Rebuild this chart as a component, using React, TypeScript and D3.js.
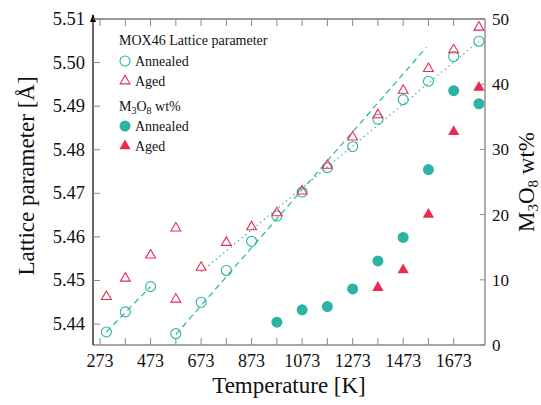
import React from "react";
import * as d3 from "d3";

// ---- data ----
const temps = [298, 373, 473, 573, 673, 773, 873, 973, 1073, 1173, 1273, 1373, 1473, 1573, 1673, 1773];
const annealedLattice = [5.4382, 5.4428, 5.4486, 5.4378, 5.4450, 5.4523, 5.4590, 5.4648, 5.4703, 5.4759, 5.4807, 5.4870, 5.4915, 5.4957, 5.5014, 5.5049];
const agedTemps = [298, 373, 473, 573, 573, 673, 773, 873, 973, 1073, 1173, 1273, 1373, 1473, 1573, 1673, 1773];
const agedLattice = [5.4463, 5.4505, 5.4558, 5.4620, 5.4457, 5.4530, 5.4587, 5.4623, 5.4655, 5.4705, 5.4764, 5.4829, 5.4880, 5.4936, 5.4986, 5.5029, 5.5081];
const m3o8AnnealedTemps = [973, 1073, 1173, 1273, 1373, 1473, 1573, 1673, 1773];
const m3o8Annealed = [3.5, 5.4, 5.9, 8.6, 12.9, 16.5, 26.9, 39.0, 37.0];
const m3o8AgedTemps = [1373, 1473, 1573, 1673, 1773];
const m3o8Aged = [8.8, 11.5, 20.0, 32.7, 39.5];
// fit lines (temperature, lattice)
const fitLow: [number, number][] = [[298, 5.4382], [473, 5.4486]];
const fitDashed: [number, number][] = [[573, 5.4376], [1565, 5.5035]];
const fitDotted: [number, number][] = [[673, 5.4520], [1773, 5.5049]];

const xTicks = [273, 373, 473, 573, 673, 773, 873, 973, 1073, 1173, 1273, 1373, 1473, 1573, 1673];
const xTickLabels = [273, 473, 673, 873, 1073, 1273, 1473, 1673];
const yLeftTicks = [5.44, 5.45, 5.46, 5.47, 5.48, 5.49, 5.5, 5.51];
const yRightTicks = [0, 10, 20, 30, 40, 50];

const TEAL = "#2bb3a4";
const RED = "#ea2a52";
const FONT = "'Liberation Serif', 'Times New Roman', serif";

const L = 93, R = 485, T = 19, B = 345;

export default function App() {
  const x = d3.scaleLinear().domain([245, 1797]).range([L, R]);
  const yL = d3.scaleLinear().domain([5.4352, 5.51]).range([B, T]);
  const yR = d3.scaleLinear().domain([0, 50]).range([B, T]);
  const line = d3.line<[number, number]>().x(d => x(d[0])).y(d => yL(d[1]));
  const tri = d3.symbol().type(d3.symbolTriangle).size(42)();
  const triF = d3.symbol().type(d3.symbolTriangle).size(55)();

  return (
    <svg width={541} height={405} style={{ position: "absolute", left: 0, top: 0, background: "#fff" }} fontFamily={FONT}>
      {/* fit lines */}
      <path d={line(fitLow) || ""} stroke={TEAL} strokeWidth={1.2} strokeDasharray="6 4" fill="none" />
      <path d={line(fitDashed) || ""} stroke={TEAL} strokeWidth={1.2} strokeDasharray="6 4" fill="none" />
      <path d={line(fitDotted) || ""} stroke={TEAL} strokeWidth={1.3} strokeDasharray="1.3 3.5" fill="none" />

      {/* lattice: annealed open circles */}
      {temps.map((t, i) => (
        <circle key={"a" + i} cx={x(t)} cy={yL(annealedLattice[i])} r={5} fill="none" stroke={TEAL} strokeWidth={1.1} />
      ))}
      {/* lattice: aged open triangles */}
      {agedTemps.map((t, i) => (
        <path key={"g" + i} d={tri || ""} transform={`translate(${x(t)},${yL(agedLattice[i])})`} fill="none" stroke={RED} strokeWidth={1.1} />
      ))}
      {/* M3O8 annealed */}
      {m3o8AnnealedTemps.map((t, i) => (
        <circle key={"ma" + i} cx={x(t)} cy={yR(m3o8Annealed[i])} r={5.5} fill={TEAL} />
      ))}
      {/* M3O8 aged */}
      {m3o8AgedTemps.map((t, i) => (
        <path key={"mg" + i} d={triF || ""} transform={`translate(${x(t)},${yR(m3o8Aged[i])})`} fill={RED} />
      ))}

      {/* axes frame */}
      <line x1={L} y1={T} x2={R} y2={T} stroke="#333" strokeWidth={1} />
      <line x1={R} y1={T} x2={R} y2={B} stroke="#777" strokeWidth={1.2} />
      <line x1={L} y1={B} x2={R} y2={B} stroke="#555" strokeWidth={1.2} />
      <line x1={L} y1={B} x2={L} y2={T - 4} stroke="#000" strokeWidth={1.2} />
      <path d={`M${L - 3},${T + 3} L${L},${T - 5} L${L + 3},${T + 3} Z`} fill="#000" />

      {/* x ticks */}
      {xTicks.map(t => (
        <g key={"xt" + t}>
          <line x1={x(t)} x2={x(t)} y1={B} y2={B - 7} stroke="#888" strokeWidth={1} />
          <line x1={x(t)} x2={x(t)} y1={T} y2={T + 7} stroke="#888" strokeWidth={1} />
        </g>
      ))}
      {xTickLabels.map(t => (
        <text key={"xl" + t} x={x(t)} y={367} textAnchor="middle" fontSize={18} fill="#111">{t}</text>
      ))}
      {/* left ticks */}
      {yLeftTicks.map(v => (
        <g key={"yl" + v}>
          <line x1={L} x2={L + 7} y1={yL(v)} y2={yL(v)} stroke="#888" strokeWidth={1} />
          <text x={85} y={yL(v) + 6} textAnchor="end" fontSize={18.5} fill="#111">{v.toFixed(2)}</text>
        </g>
      ))}
      {/* right ticks */}
      {yRightTicks.map(v => (
        <g key={"yr" + v}>
          <line x1={R} x2={R - 5} y1={yR(v)} y2={yR(v)} stroke="#888" strokeWidth={1} />
          <text x={492} y={yR(v) + 6} textAnchor="start" fontSize={17} fill="#111">{v}</text>
        </g>
      ))}

      {/* axis titles */}
      <text x={289} y={393} textAnchor="middle" fontSize={23} fill="#111">Temperature [K]</text>
      <text transform="translate(34,176) rotate(-90)" textAnchor="middle" fontSize={23} fill="#111">Lattice parameter [Å]</text>
      <text transform="translate(534,182) rotate(-90)" textAnchor="middle" fontSize={23} fill="#111">
        M<tspan fontSize={15} dy={4}>3</tspan><tspan dy={-4}>O</tspan><tspan fontSize={15} dy={4}>8</tspan><tspan dy={-4}> wt%</tspan>
      </text>

      {/* legend */}
      <g fontSize={14} fill="#111">
        <text x={119} y={45}>MOX46 Lattice parameter</text>
        <circle cx={125} cy={61} r={5} fill="none" stroke={TEAL} strokeWidth={1.1} />
        <text x={135} y={66}>Annealed</text>
        <path d={tri || ""} transform="translate(125,81)" fill="none" stroke={RED} strokeWidth={1.1} />
        <text x={135} y={86}>Aged</text>
        <text x={119} y={111}>M<tspan fontSize={10} dy={3}>3</tspan><tspan dy={-3}>O</tspan><tspan fontSize={10} dy={3}>8</tspan><tspan dy={-3}> wt%</tspan></text>
        <circle cx={125} cy={126} r={5.5} fill={TEAL} />
        <text x={135} y={131}>Annealed</text>
        <path d={triF || ""} transform="translate(125,146)" fill={RED} />
        <text x={135} y={151}>Aged</text>
      </g>
    </svg>
  );
}
